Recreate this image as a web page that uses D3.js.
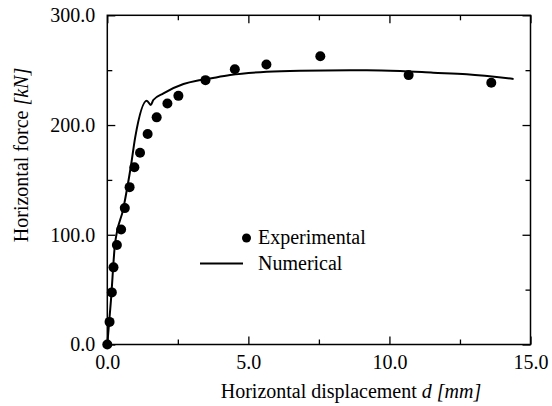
<!DOCTYPE html>
<html>
<head>
<meta charset="utf-8">
<script src="https://cdn.jsdelivr.net/npm/d3@7"></script>
<style>
  html, body { margin: 0; padding: 0; background: #fff; }
</style>
</head>
<body>
<div id="chart"></div>
<script>
// Experimental points (displacement mm, force kN)
const expDisp = [0, 0.08, 0.16, 0.22, 0.34, 0.49, 0.62, 0.79, 0.96, 1.16, 1.43, 1.75, 2.13, 2.52, 3.48, 4.52, 5.64, 7.55, 10.68, 13.61];
const expForce = [0, 20.6, 47.5, 70.3, 90.6, 104.8, 124.3, 143.4, 161.5, 174.8, 191.8, 207, 219.7, 226.6, 240.9, 250.9, 255.2, 262.7, 245.5, 238.5];

// Numerical curve
const numDisp = [0, 0.13, 0.27, 0.57, 0.71, 0.83, 0.99, 1.40, 1.54, 1.63, 1.99, 2.70, 3.17, 3.49, 4.35, 5.65, 6.83, 9.20, 10.38, 11.55, 12.74, 14.40];
const numForce = [0, 40.5, 90.7, 124.1, 143.3, 161.5, 189, 222.2, 218.3, 222.8, 228.9, 237.4, 240.4, 241.7, 245.6, 248.6, 249.5, 249.9, 249.2, 247.7, 246.2, 242];

const xMajor = [0, 5, 10, 15];
const xMinor = [2.5, 7.5, 12.5];
const yMajor = [0, 100, 200, 300];
const yMinor = [50, 150, 250];

const expData = expDisp.map((d, i) => ({ d, f: expForce[i] }));
const numData = numDisp.map((d, i) => ({ d, f: numForce[i] }));

const FONT = '"Liberation Serif", "Times New Roman", "DejaVu Serif", serif';

const W = 552, H = 406;
const margin = { top: 15.3, right: 21.5, bottom: 61.5, left: 107.3 };
const width = W - margin.left - margin.right;
const height = H - margin.top - margin.bottom;

const svg = d3.select("#chart").append("svg")
  .attr("width", W)
  .attr("height", H)
  .attr("font-family", FONT);

const g = svg.append("g").attr("transform", `translate(${margin.left},${margin.top})`);

const x = d3.scaleLinear().domain([0, 15]).range([0, width]);
const y = d3.scaleLinear().domain([0, 300]).range([height, 0]);

const fmt = d3.format(".1f");

// Axes: ticks pointing inward on all four sides
function styleAxis(sel) {
  sel.attr("font-family", FONT).attr("font-size", 20);
  sel.select(".domain").remove();
  sel.selectAll("line").attr("stroke", "#000").attr("stroke-width", 1.3);
  sel.selectAll("text").style("font-family", FONT).style("font-size", "20px").attr("fill", "#000");
}

g.append("g").attr("transform", `translate(0,${height})`)
  .call(d3.axisBottom(x).tickValues(xMajor).tickSize(-8).tickPadding(10).tickFormat(fmt))
  .call(styleAxis);
g.append("g").attr("transform", `translate(0,${height})`)
  .call(d3.axisBottom(x).tickValues(xMinor).tickSize(-5).tickFormat(""))
  .call(styleAxis);
g.append("g")
  .call(d3.axisTop(x).tickValues(xMajor).tickSize(-8).tickFormat(""))
  .call(styleAxis);
g.append("g")
  .call(d3.axisTop(x).tickValues(xMinor).tickSize(-5).tickFormat(""))
  .call(styleAxis);

g.append("g")
  .call(d3.axisLeft(y).tickValues(yMajor).tickSize(-8).tickPadding(12).tickFormat(fmt))
  .call(styleAxis);
g.append("g")
  .call(d3.axisLeft(y).tickValues(yMinor).tickSize(-5).tickFormat(""))
  .call(styleAxis);
g.append("g").attr("transform", `translate(${width},0)`)
  .call(d3.axisRight(y).tickValues(yMajor).tickSize(-8).tickFormat(""))
  .call(styleAxis);
g.append("g").attr("transform", `translate(${width},0)`)
  .call(d3.axisRight(y).tickValues(yMinor).tickSize(-5).tickFormat(""))
  .call(styleAxis);

// Frame
g.append("rect")
  .attr("width", width)
  .attr("height", height)
  .attr("fill", "none")
  .attr("stroke", "#000")
  .attr("stroke-width", 1.5);

// Numerical line
const line = d3.line()
  .x(p => x(p.d))
  .y(p => y(p.f))
  .curve(d3.curveMonotoneX);

g.append("path")
  .datum(numData)
  .attr("d", line)
  .attr("fill", "none")
  .attr("stroke", "#000")
  .attr("stroke-width", 2);

// Experimental dots
g.selectAll(".dot")
  .data(expData)
  .enter()
  .append("circle")
  .attr("class", "dot")
  .attr("cx", p => x(p.d))
  .attr("cy", p => y(p.f))
  .attr("r", 5)
  .attr("fill", "#000");

// Axis titles
const xt = svg.append("text")
  .attr("x", 351)
  .attr("y", 398)
  .attr("text-anchor", "middle")
  .style("font-family", FONT)
  .style("font-size", "20px");
xt.append("tspan").text("Horizontal displacement ");
xt.append("tspan").attr("font-style", "italic").text("d [mm]");

const yt = svg.append("text")
  .attr("transform", "translate(28,155) rotate(-90)")
  .attr("text-anchor", "middle")
  .style("font-family", FONT)
  .style("font-size", "20px");
yt.append("tspan").text("Horizontal force ");
yt.append("tspan").attr("font-style", "italic").text("[kN]");

// Legend
const legend = svg.append("g").style("font-family", FONT).style("font-size", "20px");
legend.append("circle")
  .attr("cx", 246.5).attr("cy", 238).attr("r", 4.5).attr("fill", "#000");
legend.append("text")
  .attr("x", 258).attr("y", 244)
  .text("Experimental");
legend.append("line")
  .attr("x1", 200).attr("x2", 243).attr("y1", 263.5).attr("y2", 263.5)
  .attr("stroke", "#000").attr("stroke-width", 2);
legend.append("text")
  .attr("x", 258).attr("y", 270)
  .text("Numerical");
</script>
</body>
</html>
